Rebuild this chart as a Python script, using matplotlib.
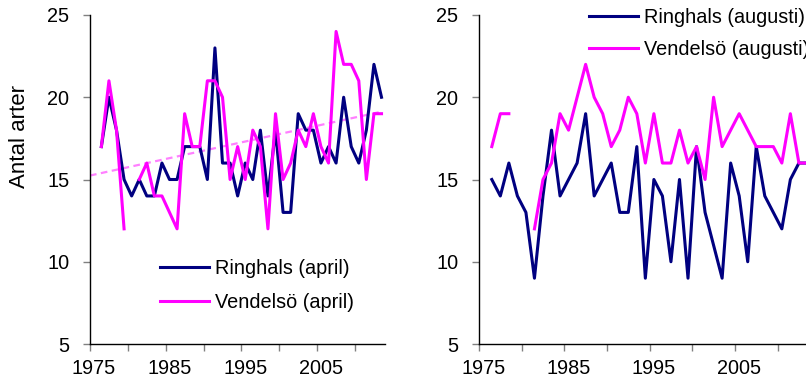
"""
Antal arter per år vid Ringhals och Vendelsö, april och augusti.
Två paneler sida vid sida, med linjär trend för Vendelsö (april).
"""

import matplotlib
matplotlib.use("Agg")
import matplotlib.pyplot as plt
import numpy as np

plt.rcParams["font.family"] = ["Liberation Sans", "DejaVu Sans"]

NAVY = "#000080"
MAGENTA = "#FF00FF"
TREND = "#FF80FF"
FS = 14.3

years = np.arange(1976, 2014)

# April
ringhals_april = [17, 20, 18, 15, 14, 15, 14, 14, 16, 15, 15, 17, 17, 17, 15, 23,
                  16, 16, 14, 16, 15, 18, 14, 18, 13, 13, 19, 18, 18, 16, 17, 16,
                  20, 17, 16, 18, 22, 20]
vendelso_april = [17, 21, 18, 12, None, 15, 16, 14, 14, 13, 12, 19, 17, 17, 21, 21,
                  20, 15, 17, 15, 18, 17, 12, 19, 15, 16, 18, 17, 19, 17, 16, 24,
                  22, 22, 21, 15, 19, 19]

# Augusti
ringhals_aug = [15, 14, 16, 14, 13, 9, 14, 18, 14, 15, 16, 19, 14, 15, 16, 13,
                13, 17, 9, 15, 14, 10, 15, 9, 17, 13, 11, 9, 16, 14, 10, 17,
                14, 13, 12, 15, 16, 16]
vendelso_aug = [17, 19, 19, None, None, 12, 15, 16, 19, 18, 20, 22, 20, 19, 17, 18,
                20, 19, 16, 19, 16, 16, 18, 16, 17, 15, 20, 17, 18, 19, 18, 17,
                17, 17, 16, 19, 16, 16]

x_ticklabels = ["1975", "1985", "1995", "2005"]


def to_arr(vals):
    return np.array([np.nan if v is None else v for v in vals], dtype=float)


def style_axis(ax):
    ax.set_xlim(1974.5, 2013.5)
    ax.set_ylim(5, 25)
    ax.set_yticks([5, 10, 15, 20, 25])
    for s in ("top", "right"):
        ax.spines[s].set_visible(False)
    for s in ("left", "bottom"):
        ax.spines[s].set_color("black")
        ax.spines[s].set_linewidth(1.0)
    # labels centred on the year, tick marks between years
    ax.set_xticks([int(t) for t in x_ticklabels])
    ax.set_xticklabels(x_ticklabels)
    ax.set_xticks(np.arange(1974.5, 2013, 5), minor=True)
    ax.tick_params(axis="x", which="major", length=0, pad=11, labelsize=FS)
    ax.tick_params(axis="x", which="minor", length=5, width=1, color="#808080",
                   direction="out")
    ax.tick_params(axis="y", length=5, width=1, color="#808080", direction="out",
                   pad=10, labelsize=FS)


fig = plt.figure(figsize=(8.06, 3.84), dpi=100)
ax1 = fig.add_axes([90 / 806, 40 / 384, 295.3 / 806, 329 / 384])
ax2 = fig.add_axes([479 / 806, 40 / 384, 332.7 / 806, 329 / 384])

lw = 2.2

# --- April ---
va = to_arr(vendelso_april)
mask = ~np.isnan(va)
k, m = np.polyfit(years[mask], va[mask], 1)
tx = np.array([1974.5, 2013.0])
ax1.plot(tx, k * tx + m, color=TREND, linewidth=1.6, linestyle=(0, (3, 2)))
ax1.plot(years, to_arr(ringhals_april), color=NAVY, linewidth=lw,
         label="Ringhals (april)")
ax1.plot(years, va, color=MAGENTA, linewidth=lw, label="Vendelsö (april)")
style_axis(ax1)
ax1.legend(loc="center left", bbox_to_anchor=(0.237, 0.179), frameon=False,
           fontsize=FS, borderpad=0, borderaxespad=0, handlelength=2.45,
           handletextpad=0.3, labelspacing=0.75)

fig.text(20 / 806, 1 - 136 / 384, "Antal arter", rotation=90, ha="center",
         va="center", fontsize=16)

# --- Augusti ---
ax2.plot(years, to_arr(ringhals_aug), color=NAVY, linewidth=lw,
         label="Ringhals (augusti)")
ax2.plot(years, to_arr(vendelso_aug), color=MAGENTA, linewidth=lw,
         label="Vendelsö (augusti)")
style_axis(ax2)
ax2.legend(loc="center left", bbox_to_anchor=(0.331, 0.944), frameon=False,
           fontsize=FS, borderpad=0, borderaxespad=0, handlelength=2.45,
           handletextpad=0.3, labelspacing=0.65)

fig.savefig("out.png", dpi=100)
